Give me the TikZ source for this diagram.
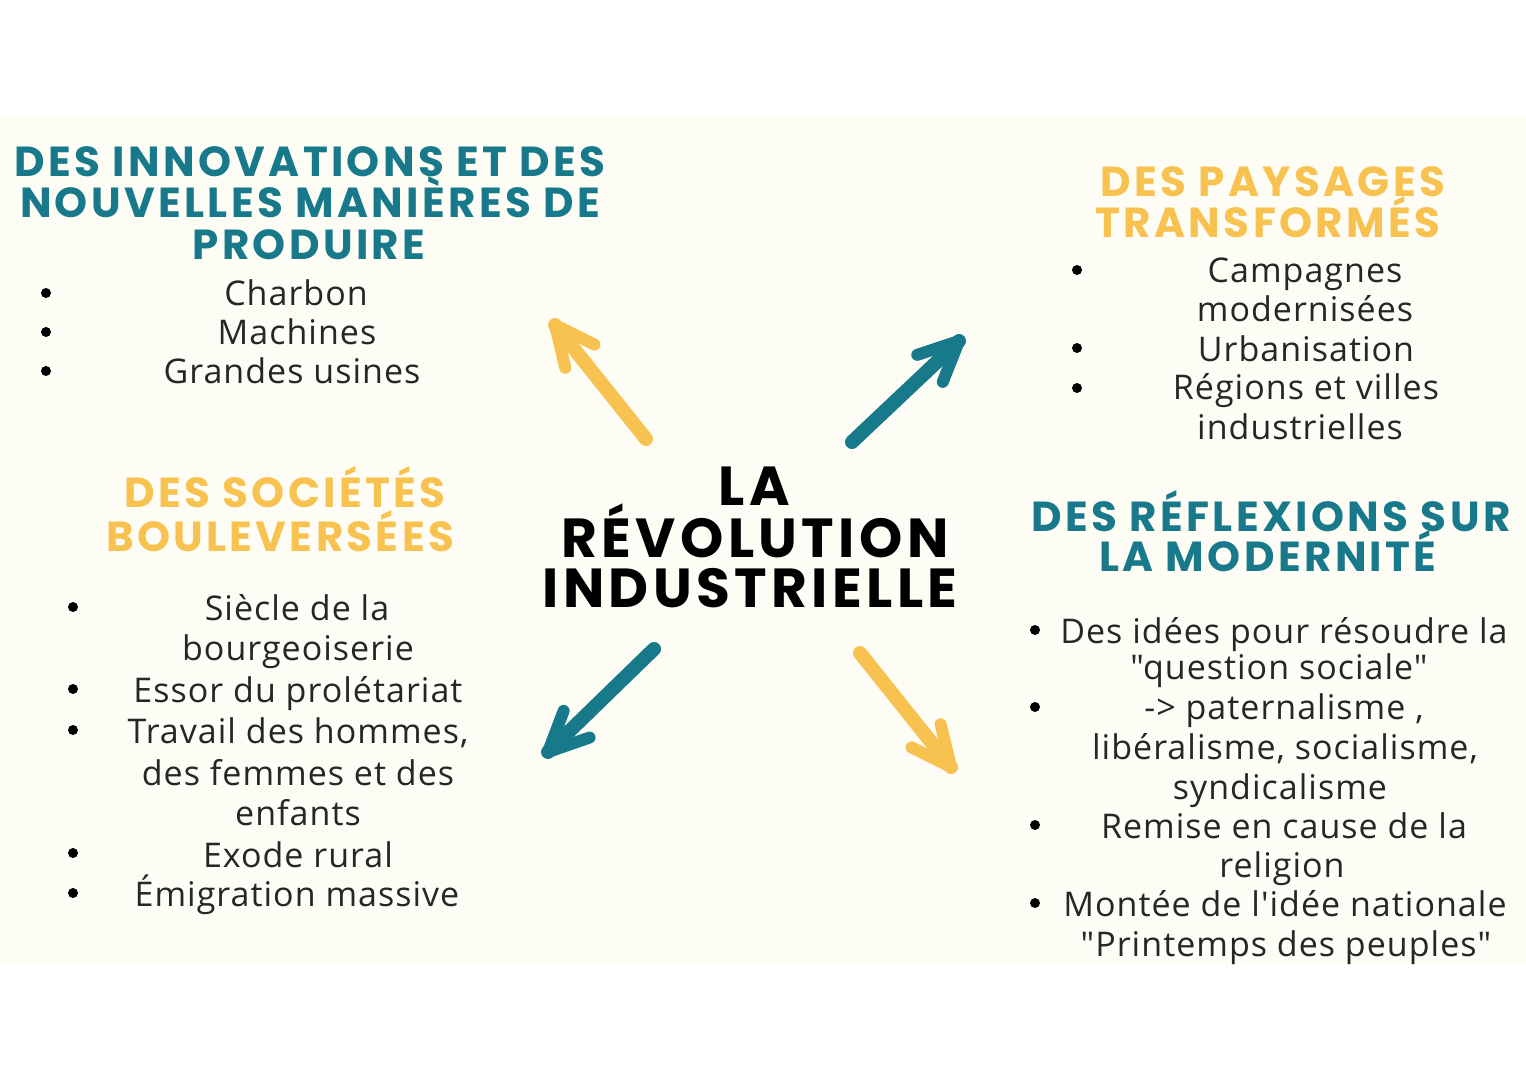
\documentclass[tikz,border=0pt]{standalone}
\usepackage{fontspec}
\setmainfont{Open Sans}
\newfontfamily\headfont{Poppins}[LetterSpace=8]
\newfontfamily\bodyfont{Open Sans}[LetterSpace=3]
\usetikzlibrary{calc}
\definecolor{teal}{HTML}{17798A}
\definecolor{sun}{HTML}{F8C250}
\definecolor{cream}{HTML}{FDFDF6}
\tikzset{
  headtxt/.style={anchor=base, inner sep=0pt, font=\headfont\bfseries\fontsize{21}{21}\selectfont},
  centertxt/.style={anchor=base, inner sep=0pt, text=black, font=\headfont\bfseries\fontsize{27.5}{27.5}\selectfont},
  bodytxt/.style={anchor=base, inner sep=0pt, text=black!85, font=\bodyfont\fontsize{17}{17}\selectfont},
  bul/.style={circle, fill=black, inner sep=0pt, minimum size=5pt},
  brush/.style={line width=7pt, line cap=round, line join=round},
}
\newcommand{\brusharrow}[3]{%
  \draw[brush, #1] (#2) -- (#3);
  \draw[brush, #1, line width=6pt] ($(#3)!22pt!25:(#2)$) -- (#3) -- ($(#3)!22pt!-25:(#2)$);
}
\begin{document}
\begin{tikzpicture}[x=0.5pt,y=-0.5pt]
\useasboundingbox (0,0) rectangle (1526,1080);
\fill[white] (0,0) rectangle (1526,1080);
\fill[cream] (0,115) rectangle (1526,965);

% top-left heading
\node[headtxt, text=teal] (h1a) at (310,177) {DES INNOVATIONS ET DES};
\node[headtxt, text=teal] (h1b) at (310,218) {NOUVELLES MANIÈRES DE};
\node[headtxt, text=teal] (h1c) at (309,260) {PRODUIRE};
\node[bul] (b1a) at (46,293) {};
\node[bul] (b1b) at (46,332) {};
\node[bul] (b1c) at (46,371) {};
\node[bodytxt] (t1a) at (296,306) {Charbon};
\node[bodytxt] (t1b) at (297,345) {Machines};
\node[bodytxt] (t1c) at (292,384) {Grandes usines};

% top-right heading
\node[headtxt, text=sun] (h2a) at (1273,197) {DES PAYSAGES};
\node[headtxt, text=sun] (h2b) at (1268,238) {TRANSFORMÉS};
\node[bul] (b2a) at (1077,270) {};
\node[bul] (b2b) at (1077,348) {};
\node[bul] (b2c) at (1077,388) {};
\node[bodytxt] (t2a) at (1305,283) {Campagnes};
\node[bodytxt] (t2b) at (1305,322) {modernisées};
\node[bodytxt] (t2c) at (1306,362) {Urbanisation};
\node[bodytxt] (t2d) at (1306,400) {Régions et villes};
\node[bodytxt] (t2e) at (1300,440) {industrielles};

% bottom-left heading
\node[headtxt, text=sun] (h3a) at (285,508) {DES SOCIÉTÉS};
\node[headtxt, text=sun] (h3b) at (280,552) {BOULEVERSÉES};
\node[bul] (b3a) at (73,607) {};
\node[bul] (b3b) at (73,689) {};
\node[bul] (b3c) at (73,730) {};
\node[bul] (b3d) at (73,853) {};
\node[bul] (b3e) at (73,893) {};
\node[bodytxt] (t3a) at (297,620) {Siècle de la};
\node[bodytxt] (t3b) at (298,660) {bourgeoiserie};
\node[bodytxt] (t3c) at (298,702) {Essor du prolétariat};
\node[bodytxt] (t3d) at (298,743) {Travail des hommes,};
\node[bodytxt] (t3e) at (298,785) {des femmes et des};
\node[bodytxt] (t3f) at (298,825) {enfants};
\node[bodytxt] (t3g) at (298,867) {Exode rural};
\node[bodytxt] (t3h) at (297,906) {Émigration massive};

% bottom-right heading
\node[headtxt, text=teal] (h4a) at (1271,531) {DES RÉFLEXIONS SUR};
\node[headtxt, text=teal] (h4b) at (1268,571) {LA MODERNITÉ};
\node[bul] (b4a) at (1035,630) {};
\node[bul] (b4b) at (1035,707) {};
\node[bul] (b4c) at (1035,825) {};
\node[bul] (b4d) at (1035,903) {};
\node[bodytxt] (t4a) at (1284,643) {Des idées pour résoudre la};
\node[bodytxt] (t4b) at (1279,679) {"question sociale"};
\node[bodytxt] (t4c) at (1284,719) {-> paternalisme ,};
\node[bodytxt] (t4d) at (1285,759) {libéralisme, socialisme,};
\node[bodytxt] (t4e) at (1280,799) {syndicalisme};
\node[bodytxt] (t4f) at (1284,838) {Remise en cause de la};
\node[bodytxt] (t4g) at (1282,877) {religion};
\node[bodytxt] (t4h) at (1285,916) {Montée de l'idée nationale};
\node[bodytxt] (t4i) at (1286,956) {"Printemps des peuples"};

% centre
\node[centertxt] (c1) at (754,505) {LA};
\node[centertxt] (c2) at (755,557) {RÉVOLUTION};
\node[centertxt] (c3) at (750,607) {INDUSTRIELLE};

% arrows
\coordinate (a1s) at (646,439);
\coordinate (a1e) at (555,325);
\coordinate (a2s) at (852,442);
\coordinate (a2e) at (959,341);
\coordinate (a3s) at (654,649);
\coordinate (a3e) at (548,752);
\coordinate (a4s) at (860,653);
\coordinate (a4e) at (951,767);
\brusharrow{sun}{a1s}{a1e}
\brusharrow{teal}{a2s}{a2e}
\brusharrow{teal}{a3s}{a3e}
\brusharrow{sun}{a4s}{a4e}
\end{tikzpicture}
\end{document}
